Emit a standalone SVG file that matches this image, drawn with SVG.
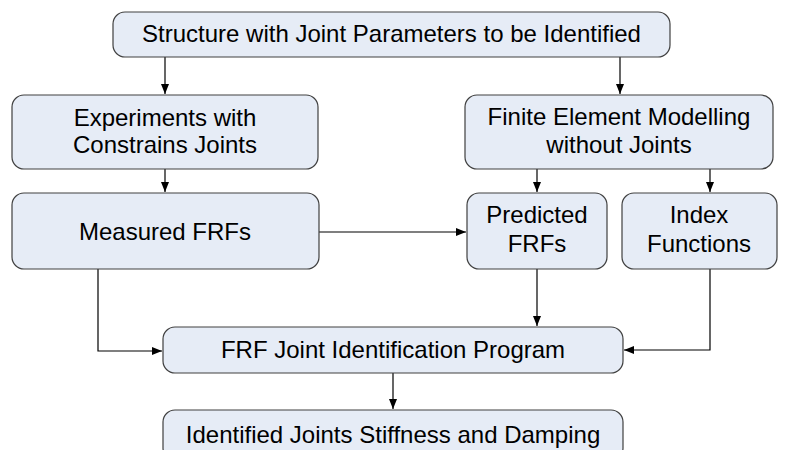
<svg xmlns="http://www.w3.org/2000/svg" width="789" height="450" viewBox="0 0 789 450">
<style>
.box{fill:#E6ECF6;stroke:#404040;stroke-width:1.2}
.t{font-family:"Liberation Sans",Arial,sans-serif;font-size:24px;fill:#000;text-anchor:middle}
.c{fill:none;stroke:#000;stroke-width:1.2}
</style>
<defs>
<marker id="ah" viewBox="0 0 10 8" refX="10" refY="4" markerWidth="10" markerHeight="8" markerUnits="userSpaceOnUse" orient="auto">
<path d="M0,0 L10,4 L0,8 Z" fill="#000"/>
</marker>
</defs>
<rect width="789" height="450" fill="#fff"/>
<g id="connectors">
<path class="c" d="M165,57 V94" marker-end="url(#ah)"/>
<path class="c" d="M620,57 V94" marker-end="url(#ah)"/>
<path class="c" d="M165,169 V192" marker-end="url(#ah)"/>
<path class="c" d="M537,169 V192" marker-end="url(#ah)"/>
<path class="c" d="M710,169 V192" marker-end="url(#ah)"/>
<path class="c" d="M319,232 H466" marker-end="url(#ah)"/>
<path class="c" d="M98,269 V351 H162" marker-end="url(#ah)"/>
<path class="c" d="M537,269 V326" marker-end="url(#ah)"/>
<path class="c" d="M710,269 V350 H624" marker-end="url(#ah)"/>
<path class="c" d="M393,373 V409" marker-end="url(#ah)"/>
</g>
<g id="n_structure">
<rect class="box" x="113" y="12" width="557" height="45" rx="12"/>
<text class="t" x="391.5" y="42">Structure with Joint Parameters to be Identified</text>
</g>
<g id="n_experiments">
<rect class="box" x="12" y="95" width="306" height="74" rx="12"/>
<text class="t" x="165" y="126">Experiments with</text>
<text class="t" x="165" y="153">Constrains Joints</text>
</g>
<g id="n_fem">
<rect class="box" x="465" y="95" width="308" height="74" rx="12"/>
<text class="t" x="619" y="125">Finite Element Modelling</text>
<text class="t" x="619" y="153">without Joints</text>
</g>
<g id="n_measured">
<rect class="box" x="12" y="193" width="307" height="76" rx="12"/>
<text class="t" x="165" y="240">Measured FRFs</text>
</g>
<g id="n_predicted">
<rect class="box" x="467" y="193" width="140" height="76" rx="12"/>
<text class="t" x="537" y="223">Predicted</text>
<text class="t" x="537" y="252">FRFs</text>
</g>
<g id="n_index">
<rect class="box" x="622" y="193" width="155" height="76" rx="12"/>
<text class="t" x="699" y="223">Index</text>
<text class="t" x="699" y="252">Functions</text>
</g>
<g id="n_frf">
<rect class="box" x="163" y="327" width="460" height="46" rx="12"/>
<text class="t" x="393" y="358">FRF Joint Identification Program</text>
</g>
<g id="n_identified">
<rect class="box" x="163" y="410" width="460" height="50" rx="12"/>
<text class="t" x="393" y="443">Identified Joints Stiffness and Damping</text>
</g>
</svg>
